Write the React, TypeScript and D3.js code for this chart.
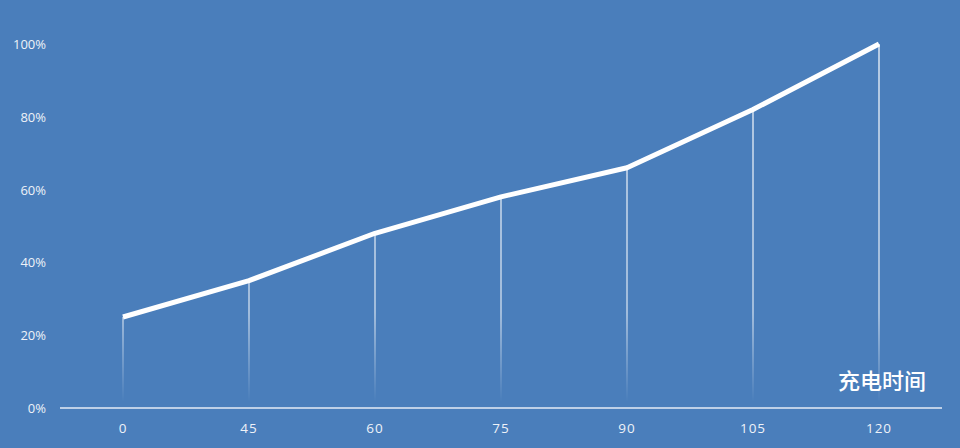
import React, { useEffect, useRef } from 'react';
import * as d3 from 'd3';

const categories = ['0', '45', '60', '75', '90', '105', '120'];
const values = [25, 35, 48, 58, 66, 82, 100];
const yTicks = [0, 20, 40, 60, 80, 100];
const axisTitle = '充电时间';

const App = () => {
  const svgRef = useRef<SVGSVGElement | null>(null);
  const width = 960, height = 448;

  useEffect(() => {
    const svg = d3.select(svgRef.current);
    svg.selectAll('*').remove();

    const margin = { top: 44, right: 18, bottom: 40, left: 60 };
    const x = d3.scaleBand().domain(categories).range([margin.left, width - margin.right]);
    const y = d3.scaleLinear().domain([0, 100]).range([height - margin.bottom, margin.top]);
    const cx = (c: string) => (x(c) as number) + x.bandwidth() / 2;

    svg.append('rect').attr('width', width).attr('height', height).attr('fill', '#4a7ebb');

    const defs = svg.append('defs');
    const grad = defs.append('linearGradient')
      .attr('id', 'drop').attr('gradientUnits', 'userSpaceOnUse')
      .attr('x1', 0).attr('x2', 0).attr('y1', y(100)).attr('y2', y(0) - 6);
    grad.append('stop').attr('offset', '0%').attr('stop-color', '#fff').attr('stop-opacity', 1);
    grad.append('stop').attr('offset', '75%').attr('stop-color', '#fff').attr('stop-opacity', 0.8);
    grad.append('stop').attr('offset', '100%').attr('stop-color', '#fff').attr('stop-opacity', 0);

    // drop lines
    svg.append('g').selectAll('rect')
      .data(categories)
      .join('rect')
      .attr('x', c => cx(c) - 0.6)
      .attr('width', 1.2)
      .attr('y', (c, i) => y(values[i]))
      .attr('height', (c, i) => y(0) - 6 - y(values[i]))
      .attr('fill', 'url(#drop)');

    // baseline
    svg.append('line')
      .attr('x1', margin.left).attr('x2', width - margin.right)
      .attr('y1', y(0)).attr('y2', y(0))
      .attr('stroke', '#e6edf6').attr('stroke-width', 1.5);

    // y labels
    svg.append('g').selectAll('text')
      .data(yTicks)
      .join('text')
      .attr('x', 46).attr('y', d => y(d) + 5)
      .attr('text-anchor', 'end')
      .attr('font-family', 'Open Sans, sans-serif')
      .attr('font-size', 13)
      .attr('fill', '#eef2f8')
      .text(d => d + '%');

    // x labels
    svg.append('g').selectAll('text')
      .data(categories)
      .join('text')
      .attr('x', c => cx(c)).attr('y', y(0) + 25)
      .attr('text-anchor', 'middle')
      .attr('font-family', 'Open Sans, sans-serif')
      .attr('font-size', 13.5)
      .attr('letter-spacing', 1)
      .attr('fill', '#eef2f8')
      .text(c => c);

    // line
    const line = d3.line<number>()
      .x((d, i) => cx(categories[i]))
      .y(d => y(d));
    svg.append('path')
      .datum(values)
      .attr('fill', 'none')
      .attr('stroke', '#ffffff')
      .attr('stroke-width', 5)
      .attr('stroke-linejoin', 'round')
      .attr('d', line);

    svg.append('text')
      .attr('x', 926).attr('y', 389)
      .attr('text-anchor', 'end')
      .attr('font-family', 'Noto Sans CJK SC, sans-serif')
      .attr('font-size', 22)
      .attr('font-weight', 500)
      .attr('fill', '#ffffff')
      .text(axisTitle);
  }, []);

  return (
    <svg ref={svgRef} width={width} height={height}
      style={{ position: 'absolute', left: 0, top: 0, display: 'block' }} />
  );
};

export default App;
